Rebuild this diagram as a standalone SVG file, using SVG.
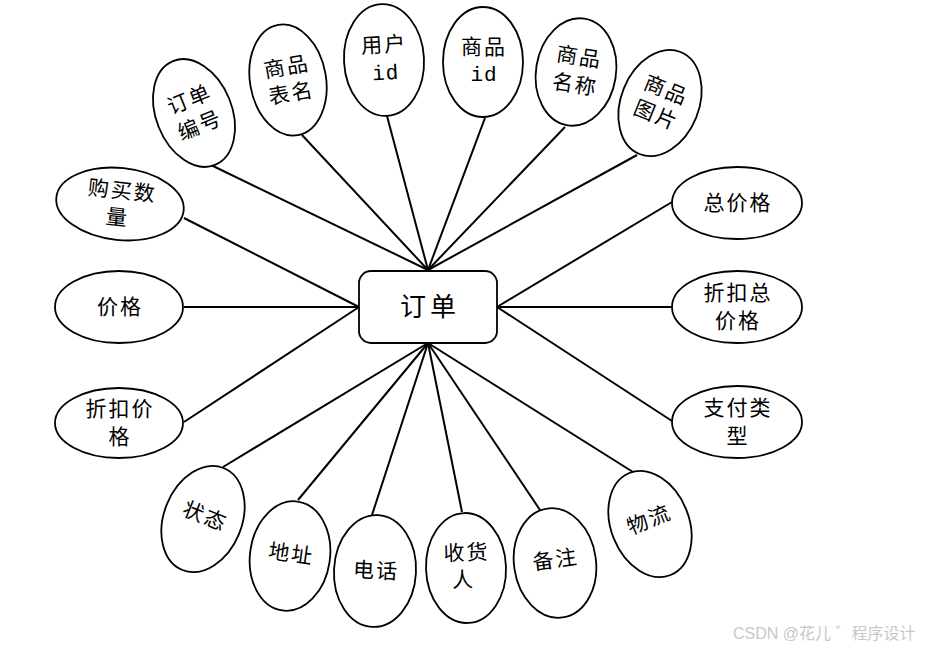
<svg xmlns="http://www.w3.org/2000/svg" width="925" height="649" viewBox="0 0 925 649">
<style>
.bg{fill:#ffffff}
.conn line{stroke:#000;stroke-width:2;fill:none}
.attr ellipse{fill:#fff;stroke:#000;stroke-width:1.8}
.ent rect{fill:#fff;stroke:#000;stroke-width:1.8}
text{font-family:"Liberation Serif","Noto Sans CJK SC",serif;font-size:21px;fill:#000;text-anchor:middle;dominant-baseline:central;letter-spacing:2px}
.mono{font-family:"Liberation Mono","Noto Sans CJK SC",monospace;letter-spacing:1px}
.big{font-size:26px;letter-spacing:4px}
.wm{font-family:"Liberation Sans","Noto Sans CJK SC",sans-serif;font-size:16px;fill:#c8c8c8;text-anchor:start;letter-spacing:0}
</style>
<rect class="bg" x="0" y="0" width="925" height="649"/>
<g id="connectors" class="conn">
<line x1="211" y1="165" x2="428" y2="270"/>
<line x1="302" y1="135" x2="428" y2="270"/>
<line x1="387" y1="116" x2="428" y2="270"/>
<line x1="485" y1="118" x2="428" y2="270"/>
<line x1="565" y1="127" x2="428" y2="270"/>
<line x1="637" y1="155" x2="428" y2="270"/>
<line x1="672" y1="202" x2="497" y2="307"/>
<line x1="672" y1="307" x2="497" y2="307"/>
<line x1="672" y1="421" x2="497" y2="307"/>
<line x1="633" y1="472" x2="428" y2="343"/>
<line x1="540" y1="510" x2="428" y2="343"/>
<line x1="462" y1="512" x2="428" y2="343"/>
<line x1="372" y1="515" x2="428" y2="343"/>
<line x1="298" y1="500" x2="428" y2="343"/>
<line x1="223" y1="467" x2="428" y2="343"/>
<line x1="184" y1="422" x2="359" y2="307"/>
<line x1="184" y1="307" x2="359" y2="307"/>
<line x1="184" y1="218" x2="359" y2="307"/>
</g>
<g id="order" class="ent">
<rect x="359" y="271" width="138" height="72" rx="12" ry="12"/>
<text class="big" x="430" y="307">订单</text>
</g>
<g id="attr-order-no" class="attr" transform="translate(194,113) rotate(-22)">
<ellipse cx="0" cy="0" rx="38" ry="56"/>
<text x="1" y="-14">订单</text>
<text x="1" y="14">编号</text>
</g>
<g id="attr-table-name" class="attr" transform="translate(288,80) rotate(-10)">
<ellipse cx="0" cy="0" rx="38" ry="56"/>
<text x="1" y="-13">商品</text>
<text x="1" y="14">表名</text>
</g>
<g id="attr-user-id" class="attr" transform="translate(384,60) rotate(-3)">
<ellipse cx="0" cy="0" rx="40" ry="56"/>
<text x="1" y="-15">用户</text>
<text class="mono" x="1" y="14">id</text>
</g>
<g id="attr-goods-id" class="attr" transform="translate(483,62)">
<ellipse cx="0" cy="0" rx="40" ry="55"/>
<text x="1" y="-15">商品</text>
<text class="mono" x="1" y="13">id</text>
</g>
<g id="attr-goods-name" class="attr" transform="translate(576,72) rotate(9)">
<ellipse cx="0" cy="0" rx="40" ry="54"/>
<text x="1" y="-15">商品</text>
<text x="1" y="13">名称</text>
</g>
<g id="attr-goods-pic" class="attr" transform="translate(660,103) rotate(22)">
<ellipse cx="0" cy="0" rx="39" ry="55"/>
<text x="1" y="-14">商品</text>
<text x="1" y="13">图片</text>
</g>
<g id="attr-total" class="attr">
<ellipse cx="737" cy="203" rx="65" ry="36"/>
<text x="738" y="203">总价格</text>
</g>
<g id="attr-discount-total" class="attr">
<ellipse cx="737" cy="307" rx="65" ry="36"/>
<text x="738" y="293">折扣总</text>
<text x="738" y="321">价格</text>
</g>
<g id="attr-pay-type" class="attr">
<ellipse cx="737" cy="422" rx="65" ry="36"/>
<text x="738" y="408">支付类</text>
<text x="738" y="436">型</text>
</g>
<g id="attr-logistics" class="attr" transform="translate(650,524) rotate(-22)">
<ellipse cx="0" cy="0" rx="39" ry="55"/>
<text x="1" y="-4">物流</text>
</g>
<g id="attr-remark" class="attr" transform="translate(555,563) rotate(-8)">
<ellipse cx="0" cy="0" rx="41" ry="55"/>
<text x="1" y="-3">备注</text>
</g>
<g id="attr-receiver" class="attr" transform="translate(466,568) rotate(-2)">
<ellipse cx="0" cy="0" rx="40" ry="55"/>
<text x="1" y="-15">收货</text>
<text x="-3" y="12">人</text>
</g>
<g id="attr-phone" class="attr" transform="translate(375,571) rotate(3)">
<ellipse cx="0" cy="0" rx="41" ry="56"/>
<text x="1" y="0">电话</text>
</g>
<g id="attr-address" class="attr" transform="translate(290,556) rotate(8)">
<ellipse cx="0" cy="0" rx="40" ry="55"/>
<text x="1" y="-2">地址</text>
</g>
<g id="attr-status" class="attr" transform="translate(203,519) rotate(22)">
<ellipse cx="0" cy="0" rx="39" ry="55"/>
<text x="1" y="-3">状态</text>
</g>
<g id="attr-discount-price" class="attr">
<ellipse cx="119" cy="423" rx="64" ry="35"/>
<text x="120" y="409">折扣价</text>
<text x="120" y="437">格</text>
</g>
<g id="attr-price" class="attr">
<ellipse cx="119" cy="307" rx="64" ry="36"/>
<text x="120" y="307">价格</text>
</g>
<g id="attr-quantity" class="attr" transform="translate(120,204) rotate(6)">
<ellipse cx="0" cy="0" rx="64" ry="36"/>
<text x="1" y="-13">购买数</text>
<text x="-1" y="14">量</text>
</g>
<text class="wm" x="733" y="633">CSDN @花儿 ゛程序设计</text>
</svg>
